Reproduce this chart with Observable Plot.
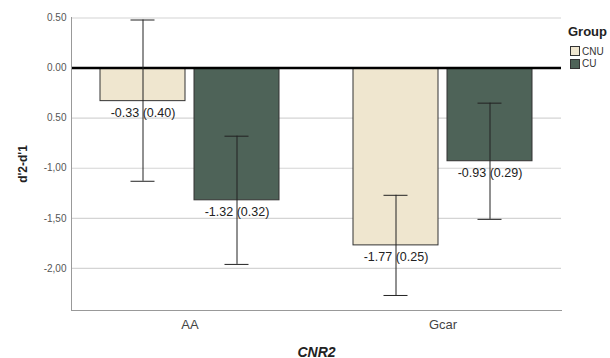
<!DOCTYPE html>
<html>
<head>
<meta charset="utf-8">
<script src="https://cdn.jsdelivr.net/npm/d3@7"></script>
<script src="https://cdn.jsdelivr.net/npm/@observablehq/plot@0.6"></script>
<style>
  body { margin: 0; background: #fff; }
  #wrap { position: relative; width: 610px; height: 358px; font-family: "Liberation Sans", Arial, sans-serif; }
  #legend { position: absolute; left: 568px; top: 24px; color: #222; }
  #legend .title { font-weight: bold; font-size: 13px; margin-bottom: 6px; }
  #legend .item { display: flex; align-items: center; font-size: 10px; height: 12.5px; color: #333; }
  #legend .sw { width: 8px; height: 8px; border: 1px solid #333; margin-right: 2px; margin-left: 2px; }
</style>
</head>
<body>
<div id="wrap"></div>
<script>
// ---- data ----
const categories = ["AA", "Gcar"];
const groups = ["CNU", "CU"];
const groupColors = ["#efe6cf", "#4e6358"];
const cnuMean = [-0.33, -1.77];
const cuMean = [-1.32, -0.93];
const cnuSE = [0.40, 0.25];
const cuSE = [0.32, 0.29];
const cnuLow = [-1.13, -2.27];
const cnuHigh = [0.48, -1.27];
const cuLow = [-1.96, -1.51];
const cuHigh = [-0.68, -0.35];
const yTicks = [0.5, 0, -0.5, -1, -1.5, -2];
const yTickLabels = ["0.50", "0.00", "0.50", "-1,00", "-1,50", "-2,00"];
const xTitle = "CNR2";
const yTitle = "d'2-d'1";
const legendTitle = "Group";

// ---- tables ----
const cnuRows = categories.map((c, i) => ({cat: c, group: groups[0], mean: cnuMean[i], se: cnuSE[i], low: cnuLow[i], high: cnuHigh[i]}));
const cuRows = categories.map((c, i) => ({cat: c, group: groups[1], mean: cuMean[i], se: cuSE[i], low: cuLow[i], high: cuHigh[i]}));
const lab = d => `${d.mean.toFixed(2)} (${d.se.toFixed(2)})`;

const barHalf = 94;   // inset that leaves one half of the band for each bar
const off = 47;       // offset from band centre to each bar centre
const capIn = 30.5, capOut = 124.5;

const chart = Plot.plot({
  width: 610,
  height: 358,
  marginLeft: 71,
  marginRight: 49,
  marginTop: 17,
  marginBottom: 48,
  style: {fontFamily: "Liberation Sans, Arial, sans-serif", background: "#fff"},
  x: {domain: categories, paddingInner: 0.294, paddingOuter: 0.114},
  y: {domain: [-2.42, 0.505]},
  color: {domain: groups, range: groupColors},
  marks: [
    Plot.ruleY(yTicks.filter(d => d !== 0), {stroke: "#d4d4d4", strokeWidth: 1.2}),
    Plot.barY(cnuRows, {x: "cat", y: "mean", fill: "group", stroke: "#333", strokeWidth: 1, insetRight: barHalf}),
    Plot.barY(cuRows, {x: "cat", y: "mean", fill: "group", stroke: "#333", strokeWidth: 1, insetLeft: barHalf}),
    Plot.ruleY([0], {stroke: "#000", strokeWidth: 2.5}),
    Plot.ruleX(cnuRows, {x: "cat", y1: "low", y2: "high", dx: -off, stroke: "#222", strokeWidth: 1}),
    Plot.ruleX(cuRows, {x: "cat", y1: "low", y2: "high", dx: off, stroke: "#222", strokeWidth: 1}),
    Plot.tickY(cnuRows, {x: "cat", y: "low", insetLeft: capIn, insetRight: capOut, stroke: "#222"}),
    Plot.tickY(cnuRows, {x: "cat", y: "high", insetLeft: capIn, insetRight: capOut, stroke: "#222"}),
    Plot.tickY(cuRows, {x: "cat", y: "low", insetLeft: capOut, insetRight: capIn, stroke: "#222"}),
    Plot.tickY(cuRows, {x: "cat", y: "high", insetLeft: capOut, insetRight: capIn, stroke: "#222"}),
    Plot.text(cnuRows, {x: "cat", y: "mean", text: lab, dx: -off, dy: 12, fontSize: 12.5, fill: "#222"}),
    Plot.text(cuRows, {x: "cat", y: "mean", text: lab, dx: off, dy: 12, fontSize: 12.5, fill: "#222"}),
    Plot.frame({anchor: "left", stroke: "#999"}),
    Plot.frame({anchor: "bottom", stroke: "#999"}),
    Plot.axisY({ticks: yTicks, tickFormat: d => yTickLabels[yTicks.indexOf(d)], tickSize: 0, tickPadding: 5, fontSize: 10, fill: "#555", label: null}),
    Plot.axisY({ticks: [], label: yTitle, labelArrow: "none", labelAnchor: "center", labelOffset: 53, fill: "#222"}),
    Plot.axisX({tickSize: 0, tickPadding: 9, fontSize: 13, fill: "#444", label: null}),
    Plot.axisX({ticks: [], label: xTitle, labelArrow: "none", labelAnchor: "center", labelOffset: 46, fill: "#222"})
  ]
});

// bold / italic axis titles
d3.select(chart).selectAll('[aria-label="y-axis label"], [aria-label="y-axis label"] text')
  .style("font-weight", "bold").style("font-size", "12px");
d3.select(chart).selectAll('[aria-label="x-axis label"], [aria-label="x-axis label"] text')
  .style("font-weight", "bold").style("font-style", "italic").style("font-size", "14px");

const wrap = document.getElementById("wrap");
wrap.appendChild(chart);

// legend
const leg = document.createElement("div");
leg.id = "legend";
leg.innerHTML = `<div class="title">${legendTitle}</div>` +
  groups.map((g, i) => `<div class="item"><span class="sw" style="background:${groupColors[i]}"></span>${g}</div>`).join("");
wrap.appendChild(leg);
</script>
</body>
</html>
